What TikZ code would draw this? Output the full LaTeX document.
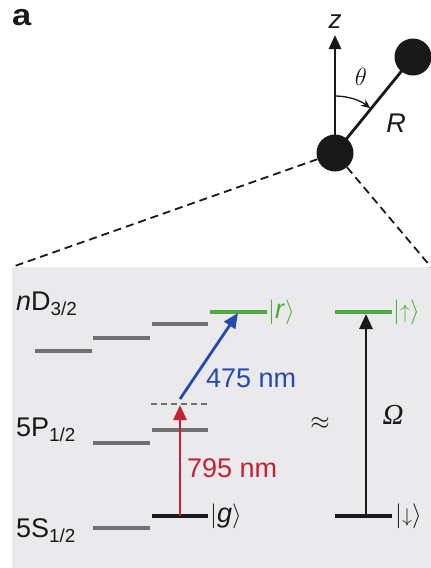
\documentclass[tikz,border=0pt]{standalone}
\usepackage{fontspec}
\setmainfont{Liberation Sans}
\newfontfamily\serifit{Liberation Serif}
\usetikzlibrary{arrows.meta}
\definecolor{panel}{RGB}{234,234,236}
\definecolor{lvgrey}{RGB}{112,112,112}
\definecolor{lvgreen}{RGB}{78,170,62}
\definecolor{lvred}{RGB}{198,32,52}
\definecolor{lvblue}{RGB}{38,72,178}
\definecolor{ink}{RGB}{25,25,25}
\tikzset{
  lbl/.style={inner sep=0pt, font=\fontsize{27}{30}\selectfont, text=ink},
  level/.style={line width=3.6pt},
  atom/.style={circle, fill=ink, minimum size=37pt, inner sep=0pt},
  trans/.style={line width=2.8pt, -{Triangle[length=15pt,width=13pt]}},
  zoomline/.style={line width=1.8pt, dash pattern=on 8pt off 5pt, ink},
}
\newcommand{\ketlbl}[1]{$|$#1\ensuremath{\rangle}}
\begin{document}
\begin{tikzpicture}[x=1pt,y=-1pt]
\useasboundingbox (0,0) rectangle (431,568);
\fill[panel] (12,267) rectangle (431,568);

% top part
\node[lbl, font=\fontsize{30}{32}\bfseries\selectfont, anchor=base west] (a) at (12,25) {\scalebox{1.15}[1]{a}};
\node[atom] (atomA) at (335,153) {};
\node[atom] (atomB) at (413,57) {};
\coordinate (pl) at (12,267);
\coordinate (pr) at (431,267);
\draw[zoomline] (atomA) -- (pl);
\draw[zoomline] (atomA) -- (pr);
\coordinate (ztip) at (335,35);
\draw[line width=2.8pt, ink, -{Triangle[length=14pt,width=12pt]}] (atomA.center) -- (ztip);
\node[lbl, font=\fontsize{26}{28}\itshape\selectfont] (zl) at (335,22) {z};
\draw[line width=2.8pt, ink] (atomA.center) -- (atomB.center);
\draw[line width=1.3pt, ink, -{Stealth[length=9pt,width=8pt]}] (335,96) arc[start angle=-90, end angle=-52, radius=57];
\node[lbl] (th) at (361,77) {$\theta$};
\node[lbl, font=\fontsize{27}{30}\itshape\selectfont] (R) at (396,123) {R};

% energy levels
\draw[level, lvgrey] (35,351) -- (92,351);
\draw[level, lvgrey] (93,338) -- (150,338);
\draw[level, lvgrey] (152,324) -- (208,324);
\draw[level, lvgreen] (210,312) -- (267,312);
\draw[lvgrey, line width=1.6pt, dash pattern=on 6pt off 4pt] (151,404) -- (208,404);
\draw[level, lvgrey] (93,443) -- (150,443);
\draw[level, lvgrey] (152,430) -- (208,430);
\draw[level, lvgrey] (93,528) -- (150,528);
\draw[level, ink] (152,516) -- (208,516);
\draw[level, lvgreen] (335,312) -- (392,312);
\draw[level, ink] (335,516) -- (392,516);

\coordinate (gpt) at (180,516);
\coordinate (vpt) at (180,405);
\coordinate (vbl) at (180,399);
\coordinate (rpt) at (238,313);
\coordinate (dn) at (366,516);
\coordinate (up) at (366,314);
\draw[trans, lvred] (gpt) -- (vpt);
\draw[trans, lvblue] (vbl) -- (rpt);
\draw[trans, ink] (dn) -- (up);

% labels
\node[lbl, anchor=base west] (nD) at (16,310) {\textit{n}D\textsubscript{3/2}};
\node[lbl, anchor=base west] (P) at (16,436) {5P\textsubscript{1/2}};
\node[lbl, anchor=base west] (S) at (16,537) {5S\textsubscript{1/2}};
\node[lbl, text=lvgreen, anchor=west] (r) at (268,312) {\ketlbl{\textit{r}}};
\node[lbl, anchor=west] (g) at (210,516) {\ketlbl{\textit{g}}};
\node[lbl, text=lvgreen, anchor=west] (uk) at (393,312) {\ketlbl{\scalebox{0.8}{$\uparrow$}}};
\node[lbl, anchor=west] (dk) at (395,516) {\ketlbl{\scalebox{0.8}{$\downarrow$}}};
\node[lbl, text=lvblue, anchor=west] (l475) at (206,378) {475 nm};
\node[lbl, text=lvred, anchor=west] (l795) at (187,468) {795 nm};
\node[lbl, font=\fontsize{29}{30}\serifit\itshape] (Om) at (393,415) {Ω};
\node[lbl] (apx) at (320,423) {$\approx$};
\end{tikzpicture}
\end{document}
